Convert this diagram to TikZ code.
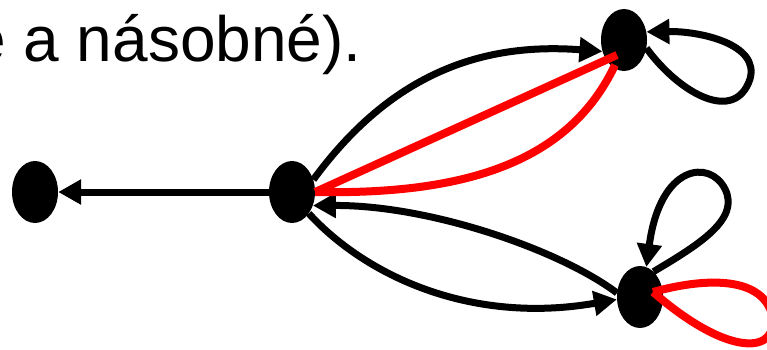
\documentclass[tikz,border=0pt]{standalone}
\usepackage{fontspec}
\setmainfont{Liberation Sans}
\usetikzlibrary{arrows.meta,shapes.geometric,calc}
\begin{document}
\begin{tikzpicture}[x=1pt,y=1pt,
  vtx/.style={ellipse, fill=black, minimum width=46pt, minimum height=62pt, inner sep=0pt},
  blk/.style={line width=7pt, draw=black},
  redl/.style={line width=8pt, draw=red},
  arr/.style={-{Triangle[length=23pt,width=24pt]}},
  lbl/.style={font=\fontsize{64}{70}\selectfont, inner sep=0pt, anchor=base west}]
\useasboundingbox (0,0) rectangle (767,349);
\clip (0,0) rectangle (767,349);
\node[lbl] (t) at (-30,288) {e a násobné).};
\node[vtx] (A) at (35,157) {};
\node[vtx] (B) at (292,157) {};
\node[vtx] (C) at (624,309) {};
\node[vtx] (D) at (640,52) {};
% black connectors
\draw[blk,arr] (B) -- (A);
\draw[blk,arr] (B.30) .. controls (390,274) and (480,307) .. (C.208);
\draw[blk,arr] (D.170) .. controls (560,99) and (430,144) .. (B.-33);
\draw[blk,arr] (B.-52) .. controls (365,74) and (470,24) .. (D.186);
\draw[blk,arr] (C.-20) .. controls (680,255) and (735,225) .. (750,270) .. controls (760,305) and (700,318) .. (C.20);
\draw[blk,arr] (D.62) .. controls (700,105) and (740,130) .. (725,160) .. controls (710,190) and (660,185) .. (D.78);
% red connectors
\draw[redl] (B.east) -- ($(C)+(-7,-15)$);
\draw[redl] (B.east) .. controls (470,154) and (570,189) .. ($(C)+(-9,-25)$);
\draw[redl] ($(D)+(13,5)$) .. controls (700,70) and (760,75) .. (772,35) .. controls (780,-5) and (730,-10) .. ($(D)+(13,5)$);
\end{tikzpicture}
\end{document}
